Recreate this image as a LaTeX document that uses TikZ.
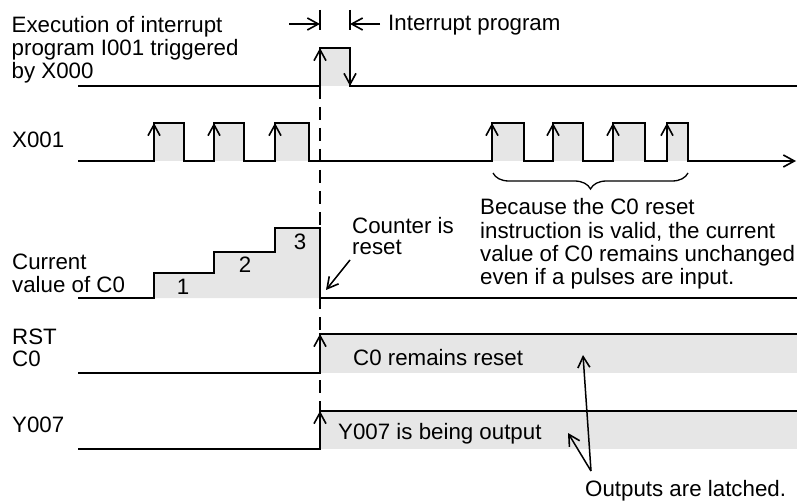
\documentclass[tikz,border=0pt]{standalone}
\usepackage{fontspec}
\setmainfont{Liberation Sans}
\usetikzlibrary{arrows.meta,decorations.pathreplacing}
\definecolor{fillg}{HTML}{E6E6E6}
\tikzset{
  vtip/.tip={Straight Barb[length=11bp,width=12bp,line width=1.6bp]},
  wave/.style={line width=2bp, line join=miter},
  lbl/.style={anchor=base west, inner sep=0pt, font=\fontsize{22.3bp}{26bp}\selectfont},
  num/.style={anchor=base, inner sep=0pt, font=\fontsize{22.3bp}{26bp}\selectfont},
  edgearr/.style={line width=2bp, -{vtip}},
  thinarr/.style={line width=1.5bp, -{vtip}},
  dashline/.style={line width=2bp, dash pattern=on 13bp off 8bp},
}
\begin{document}
\begin{tikzpicture}[x=1bp,y=-1bp]
\useasboundingbox (0,0) rectangle (797,502);

% ---------- fills ----------
\fill[fillg] (320,48) rectangle (350,86);
\foreach \a/\b in {154/184,214/244,275/309,492/524,553/583,613/645,667/688}
  \fill[fillg] (\a,123) rectangle (\b,161);
\fill[fillg] (154,298) -- (154,273) -- (214,273) -- (214,252) -- (275,252) -- (275,228) -- (320,228) -- (320,298) -- cycle;
\fill[fillg] (320,334) rectangle (797,373);
\fill[fillg] (320,411) rectangle (797,449);

% ---------- dashed trigger line ----------
\draw[dashline] (320,86) -- (320,449);

% ---------- interrupt program width ----------
\draw[line width=2bp] (320,10) -- (320,30);
\draw[line width=2bp] (350,10) -- (350,30);
\coordinate (ipl) at (289,24);
\coordinate (ipa) at (320,24);
\coordinate (ipr) at (380,24);
\coordinate (ipb) at (350,24);
\draw[edgearr] (ipl) -- (ipa);
\draw[edgearr] (ipr) -- (ipb);
\node[lbl] (ip) at (388,31) {Interrupt program};

% ---------- X000 interrupt ----------
\draw[wave] (78,86) -- (320,86) -- (320,48) -- (350,48) -- (350,86) -- (797,86);
\draw[edgearr] (320,70) -- (320,48);
\draw[edgearr] (350,64) -- (350,86);

% ---------- X001 ----------
\draw[wave,-{vtip}] (78,161) -- (154,161) -- (154,123) -- (184,123) -- (184,161)
  -- (214,161) -- (214,123) -- (244,123) -- (244,161)
  -- (275,161) -- (275,123) -- (309,123) -- (309,161)
  -- (492,161) -- (492,123) -- (524,123) -- (524,161)
  -- (553,161) -- (553,123) -- (583,123) -- (583,161)
  -- (613,161) -- (613,123) -- (645,123) -- (645,161)
  -- (667,161) -- (667,123) -- (688,123) -- (688,161) -- (796,161);
\foreach \x in {154,214,275,492,553,613,667}
  \draw[edgearr] (\x,145) -- (\x,123);

% brace
\draw[line width=1.3bp, decorate, decoration={brace, mirror, amplitude=16bp, aspect=0.5}] (493,173) -- (688,173);

% ---------- counter C0 ----------
\draw[wave] (78,298) -- (154,298) -- (154,273) -- (214,273) -- (214,252) -- (275,252) -- (275,228) -- (320,228) -- (320,298) -- (797,298);
\node[num] (n1) at (183,295) {1};
\node[num] (n2) at (245,273) {2};
\node[num] (n3) at (300,250) {3};

\node[lbl] (cr1) at (352,234) {Counter is};
\node[lbl] (cr2) at (352,255) {reset};
\coordinate (crt) at (350,260);
\coordinate (crh) at (326,290);
\draw[thinarr] (crt) -- (crh);

\node[lbl] (bc1) at (480,215) {Because the C0 reset};
\node[lbl] (bc2) at (480,238.5) {instruction is valid, the current};
\node[lbl] (bc3) at (480,262) {value of C0 remains unchanged};
\node[lbl] (bc4) at (480,285) {even if a pulses are input.};

% ---------- RST C0 ----------
\draw[wave] (78,373) -- (320,373) -- (320,334) -- (797,334);
\draw[edgearr] (320,356) -- (320,334);
\node[lbl] (rs) at (353,365) {C0 remains reset};

% ---------- Y007 ----------
\draw[wave] (78,449) -- (320,449) -- (320,411) -- (797,411);
\draw[edgearr] (320,433) -- (320,411);
\node[lbl] (yo) at (338,439) {Y007 is being output};

% ---------- latched arrows ----------
\coordinate (lt) at (591,471);
\coordinate (lh1) at (583,355);
\coordinate (lh2) at (568,433);
\draw[thinarr] (lt) -- (lh1);
\draw[thinarr] (lt) -- (lh2);
\node[lbl] (ol) at (585,496) {Outputs are latched.};

% ---------- left labels ----------
\node[lbl] (t1) at (11.5,33) {Execution of interrupt};
\node[lbl] (t2) at (11.5,56) {program I001 triggered};
\node[lbl] (t3) at (11.5,79) {by X000};
\node[lbl] (lx) at (12,148) {X001};
\node[lbl] (lc1) at (12,270) {Current};
\node[lbl] (lc2) at (12,293) {value of C0};
\node[lbl] (lr1) at (12,344) {RST};
\node[lbl] (lr2) at (12,366) {C0};
\node[lbl] (ly) at (12,432) {Y007};
\end{tikzpicture}
\end{document}
